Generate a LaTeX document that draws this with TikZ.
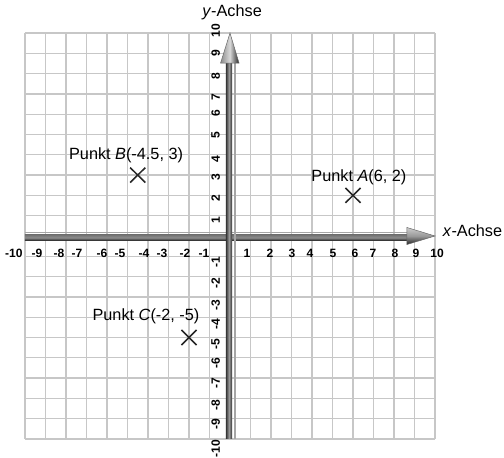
\documentclass[tikz,border=0pt]{standalone}
\usepackage{fontspec}
\setmainfont{Liberation Sans}
\usetikzlibrary{calc}
\begin{document}
\begin{tikzpicture}[x=17.015pt,y=16.849pt,
  gridline/.style={draw=black!22,line width=1.1pt},
  ticklab/.style={font=\fontsize{10}{10}\selectfont\bfseries,inner sep=0pt},
  ylab/.style={ticklab,rotate=90},
  ptlab/.style={font=\fontsize{13.5}{14}\selectfont,inner sep=0pt},
  cross/.style={draw=black!85,line width=1.3pt},
  shadowline/.style={draw=black!35,line width=1pt}]
\useasboundingbox (-190.9pt,-184.26pt) rectangle (227.42pt,195.88pt);
% grid
\foreach \i in {-10,...,10}{
  \draw[gridline] (\i,-10) -- (\i,10);
  \draw[gridline] (-10,\i) -- (10,\i);
}
% horizontal axis
\coordinate (xs) at (-10,0);
\coordinate (xb) at (8.63,0);
\coordinate (xt) at (10,0);
\draw[shadowline] (-10,0.18) -- (8.63,0.18);
\shade[top color=black!55,bottom color=black!85,middle color=black!45] (-10,-0.22) rectangle (8.63,0.06);
\shade[top color=black!20,bottom color=black!85,middle color=black!40,draw=black!60,line width=0.4pt]
  (8.63,0.42) -- (xt) -- (8.63,-0.42) -- cycle;
% vertical axis
\coordinate (ys) at (0,-10);
\coordinate (yb) at (0,8.52);
\coordinate (yt) at (0,10);
\draw[shadowline] (0.24,-10) -- (0.24,8.52);
\shade[left color=black!80,right color=black!80,middle color=black!40] (-0.2,-10) rectangle (0.1,8.52);
\shade[left color=black!45,right color=black!85,middle color=black!15,draw=black!60,line width=0.4pt]
  (-0.46,8.52) -- (yt) -- (0.44,8.52) -- cycle;
% x tick labels
\foreach \v/\p in {-10/-10.54,-9/-9.41,-8/-8.34,-7/-7.46,-6/-6.24,-5/-5.37,-4/-4.20,-3/-3.32,-2/-2.20,-1/-1.27,
  1/0.83,2/1.95,3/3.02,4/3.90,5/5.02,6/6.10,7/6.98,8/8.05,9/9.07,10/10.10}
  \node[ticklab] (xl\v) at (\p,-0.84) {\v};
% y tick labels
\foreach \v/\p in {10/10.1,9/9.01,8/7.88,7/6.85,6/6.06,5/4.98,4/3.79,3/2.91,2/1.87,1/0.79,
  -1/-1.28,-2/-2.32,-3/-3.42,-4/-4.33,-5/-5.32,-6/-6.26,-7/-7.24,-8/-8.33,-9/-9.26,-10/-10.49}
  \node[ylab] (yl\v) at (-0.7,\p) {\v};
% axis names
\node[ptlab] (xname) at (11.83,0.25) {\textit{x}-Achse};
\node[ptlab] (yname) at (0.1,11.03) {\textit{y}-Achse};
% points
\foreach \n/\x/\y in {A/6/2,B/-4.5/3,C/-2/-5}{
  \coordinate (P\n) at (\x,\y);
  \draw[cross] ($(P\n)+(-0.37,-0.37)$) -- ($(P\n)+(0.37,0.37)$);
  \draw[cross] ($(P\n)+(-0.37,0.37)$) -- ($(P\n)+(0.37,-0.37)$);
}
\node[ptlab] (lA) at (6.29,2.91) {Punkt \textit{A}(6, 2)};
\node[ptlab] (lB) at (-5.07,4.0) {Punkt \textit{B}(-4.5, 3)};
\node[ptlab] (lC) at (-4.1,-3.94) {Punkt \textit{C}(-2, -5)};
\end{tikzpicture}
\end{document}
